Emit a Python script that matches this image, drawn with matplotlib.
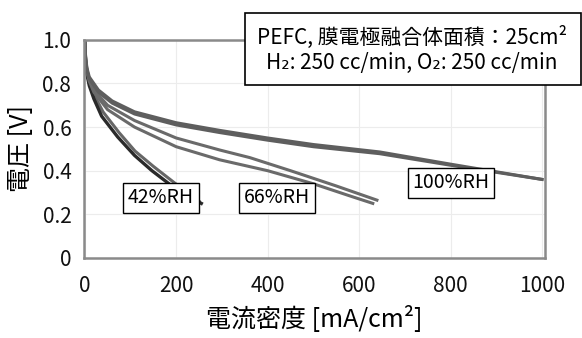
import matplotlib
matplotlib.use('Agg')
import matplotlib.pyplot as plt
from matplotlib.patches import Rectangle

plt.rcParams['font.family'] = ['Noto Sans CJK JP', 'DejaVu Sans']

# polarization curves, current density [mA/cm2] vs cell voltage [V]
x42a = [0, 2, 5, 10, 20, 37, 72, 109, 147, 203, 255]
v42a = [1.0, 0.90, 0.84, 0.79, 0.73, 0.65, 0.555, 0.47, 0.40, 0.31, 0.25]
x42b = [0, 2, 5, 10, 20, 40, 75, 110, 150, 205, 250]
v42b = [1.0, 0.91, 0.85, 0.80, 0.75, 0.67, 0.575, 0.49, 0.42, 0.33, 0.26]

x66a = [0, 2, 5, 10, 20, 50, 109, 200, 295, 361, 450, 550, 639]
v66a = [1.0, 0.91, 0.86, 0.82, 0.77, 0.70, 0.63, 0.55, 0.495, 0.46, 0.40, 0.33, 0.265]
x66b = [0, 2, 5, 10, 20, 50, 109, 200, 295, 400, 500, 586, 630]
v66b = [1.0, 0.90, 0.85, 0.81, 0.76, 0.68, 0.60, 0.51, 0.45, 0.40, 0.34, 0.28, 0.25]

x100a = [0, 2, 5, 10, 30, 60, 109, 200, 295, 400, 500, 645, 800, 1000]
v100a = [1.0, 0.92, 0.87, 0.83, 0.77, 0.72, 0.67, 0.62, 0.585, 0.55, 0.52, 0.486, 0.43, 0.36]
x100b = [0, 2, 5, 10, 30, 60, 109, 200, 295, 400, 500, 645, 800, 1000]
v100b = [1.0, 0.91, 0.86, 0.82, 0.76, 0.71, 0.66, 0.61, 0.575, 0.54, 0.51, 0.478, 0.425, 0.36]

xticks = [0, 200, 400, 600, 800, 1000]
yticks = [0, 0.2, 0.4, 0.6, 0.8, 1.0]
ytick_labels = ['0', '0.2', '0.4', '0.6', '0.8', '1.0']

rh_labels = ['42%RH', '66%RH', '100%RH']
rh_label_pos = [(166, 0.275), (420, 0.275), (801, 0.344)]

fig = plt.figure(figsize=(5.82, 3.38), dpi=100)
ax = fig.add_axes([0.144, 0.237, 0.792, 0.645])

ax.plot(x42b, v42b, color='#666666', lw=2.2)
ax.plot(x42a, v42a, color='#2a2a2a', lw=2.4)
ax.plot(x66a, v66a, color='#6a6a6a', lw=2.2)
ax.plot(x66b, v66b, color='#6a6a6a', lw=2.2)
ax.plot(x100a, v100a, color='#5e5e5e', lw=2.2)
ax.plot(x100b, v100b, color='#5e5e5e', lw=2.2)

ax.set_xlim(-2, 1006)
ax.set_ylim(0, 1.0)
ax.set_xticks(xticks)
ax.set_yticks(yticks)
ax.set_yticklabels(ytick_labels)
ax.tick_params(length=0, labelsize=15, colors='#111111')
ax.tick_params(axis='x', pad=12)
ax.tick_params(axis='y', pad=9)
ax.grid(True, color='#ececec', lw=0.8)
ax.set_axisbelow(True)
for s in ax.spines.values():
    s.set_color('#8a8a8a')
    s.set_linewidth(1.8)

ax.set_xlabel('電流密度 [mA/cm²]', fontsize=18, labelpad=7)
ax.set_ylabel('電圧 [V]', fontsize=18, labelpad=6)

for lab, (lx, ly) in zip(rh_labels, rh_label_pos):
    ax.text(lx, ly, lab, fontsize=14, ha='center', va='center', zorder=5,
            bbox=dict(boxstyle='square,pad=0.25', fc='white', ec='black', lw=1))

# condition box in the upper right
fig.patches.append(Rectangle((245 / 582, 1 - 85 / 338), 336 / 582, 72 / 338,
                             transform=fig.transFigure, fc='white', ec='black',
                             lw=1.2, zorder=10))
fig.text(412 / 582, 1 - 37 / 338, 'PEFC, 膜電極融合体面積：25cm²', fontsize=15,
         ha='center', va='center', zorder=11)
fig.text(412 / 582, 1 - 63 / 338, 'H₂: 250 cc/min, O₂: 250 cc/min', fontsize=15,
         ha='center', va='center', zorder=11)

fig.savefig('out.png', dpi=100)
